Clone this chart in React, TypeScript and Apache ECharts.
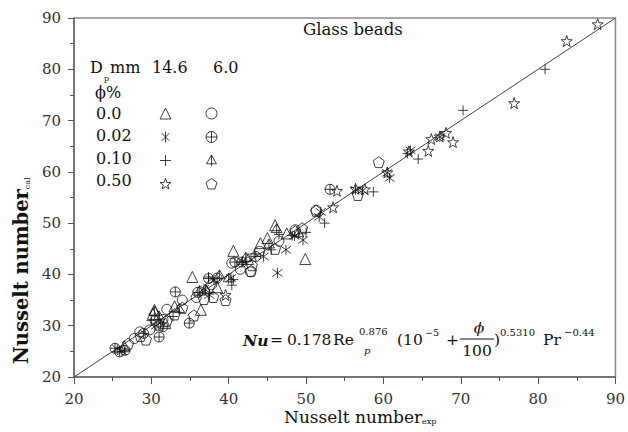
import React, { useEffect, useRef } from 'react';
import * as echarts from 'echarts';

// Nusselt number: experimental (x) vs calculated (y)
const triangle146 = [[30.4,33.1],[30.2,32.3],[35.3,39.5],[36.4,33.1],[40.6,44.6],[44.1,46.1],[45.0,47.1],[46.0,49.6],[49.9,43.0],[31.8,30.5],[38.5,37.5],[42.5,43.0],[26.5,26.0],[33.0,33.8],[47.5,48.0]];
const circle60 = [[27.8,27.5],[28.5,28.8],[29.8,29.2],[31.5,31.2],[32.0,33.2],[34.0,35.0],[35.8,35.5],[37.8,38.0],[40.4,42.2],[41.5,41.0],[42.8,40.5],[44.0,44.5],[48.6,48.7],[51.3,52.5],[46.5,46.5],[30.5,31.0]];
const asterisk146 = [[25.6,25.5],[26.2,25.0],[30.6,30.0],[36.8,37.2],[37.5,36.0],[38.1,38.9],[40.3,39.3],[41.8,42.6],[44.5,43.5],[46.3,40.3],[47.4,44.8],[49.6,46.7],[48.5,47.5],[51.9,52.2],[51.7,51.2],[56.4,56.5],[57.3,56.4],[60.5,59.8],[60.8,58.8],[63.5,64.2],[67.3,66.8]];
const oplus60 = [[25.3,25.6],[25.9,24.9],[26.6,25.2],[29.0,28.5],[31.0,27.8],[33.1,36.6],[34.9,30.5],[37.4,39.2],[38.5,39.3],[31.5,29.8],[40.8,42.4],[41.7,42.4],[53.1,56.6],[36.0,36.5],[43.5,43.5]];
const plus146 = [[30.0,31.0],[31.2,30.5],[37.4,39.5],[37.5,36.2],[40.4,37.9],[40.6,39.0],[45.5,44.8],[46.5,47.8],[48.2,47.6],[50.0,48.2],[52.4,50.0],[58.7,56.1],[63.1,63.6],[64.5,62.5],[70.3,72.0],[80.9,80.0],[32.8,31.8],[43.3,44.0]];
const triline60 = [[30.4,32.7],[31.0,31.8],[36.2,36.6],[37.0,37.0],[40.0,39.2],[42.2,43.2],[45.2,45.8],[46.2,48.8],[33.6,33.2],[38.8,39.8],[49.0,48.0]];
const star146 = [[53.5,53.1],[54.0,56.3],[56.4,56.7],[57.6,56.6],[60.5,59.9],[63.3,64.0],[65.8,64.1],[66.2,66.4],[67.3,66.9],[68.1,67.6],[69.0,65.8],[76.9,73.4],[83.7,85.5],[87.7,88.8],[39.6,36.0]];
const pentagon60 = [[27.0,26.5],[28.6,28.0],[29.3,27.3],[32.0,31.0],[33.0,32.2],[34.0,33.5],[35.5,32.0],[36.8,35.2],[38.0,35.6],[39.6,35.0],[42.9,40.7],[43.0,41.8],[46.0,45.0],[48.6,48.4],[51.3,52.4],[56.7,55.5],[59.4,61.9],[49.5,49.0],[31.0,30.2]];
const parityLine = [[20, 20], [90, 90]];

const phiLabels = ['0.0', '0.02', '0.10', '0.50'];
const diameters = ['14.6', '6.0'];

const SYM_ASTERISK = 'path://M0,-10 L0,10 M-7.07,-7.07 L7.07,7.07 M-7.07,7.07 L7.07,-7.07';
const SYM_PLUS = 'path://M-10,0 L10,0 M0,-10 L0,10';
const SYM_OPLUS = 'path://M-10,0 A10,10 0 1,0 10,0 A10,10 0 1,0 -10,0 Z M-10,0 L10,0 M0,-10 L0,10';
const SYM_TRILINE = 'path://M0,-10 L9,6 L-9,6 Z M0,-10 L0,10';
const SYM_STAR = 'path://M0,-10 L2.35,-3.24 L9.51,-3.09 L3.8,1.24 L5.88,8.09 L0,4 L-5.88,8.09 L-3.8,1.24 L-9.51,-3.09 L-2.35,-3.24 Z';
const SYM_PENT = 'path://M0,-10 L9.51,-3.09 L5.88,8.09 L-5.88,8.09 L-9.51,-3.09 Z';

const FONT = 'DejaVu Serif';
const INK = '#111';

function scatter(name: string, data: number[][], symbol: string, size: number) {
  return {
    type: 'scatter',
    name,
    data,
    symbol,
    symbolSize: size,
    itemStyle: { color: 'rgba(0,0,0,0)', borderColor: '#111', borderWidth: 1 },
    emphasis: { disabled: true },
    z: 3,
  };
}

function txt(text: string, x: number, y: number, size: number, extra: any = {}) {
  return {
    type: 'text',
    x,
    y,
    silent: true,
    style: {
      text,
      fontFamily: FONT,
      fontSize: size,
      fill: INK,
      align: 'left',
      verticalAlign: 'middle',
      ...extra,
    },
  };
}

export default function App() {
  const ref = useRef<HTMLDivElement>(null);
  useEffect(() => {
    const chart = echarts.init(ref.current!, null, { renderer: 'svg' });
    const names146 = ['14.6 / 0.0', '14.6 / 0.02', '14.6 / 0.10', '14.6 / 0.50'];
    const names60 = ['6.0 / 0.0', '6.0 / 0.02', '6.0 / 0.10', '6.0 / 0.50'];
    const rowY = [113, 135.5, 158, 180.5];
    const legendCommon = {
      orient: 'vertical',
      top: rowY[0] - 5.5,
      itemWidth: 11,
      itemHeight: 11,
      itemGap: 11.5,
      padding: 0,
      selectedMode: false,
      formatter: () => '',
      itemStyle: { borderWidth: 1, borderColor: '#111', color: 'rgba(0,0,0,0)' },
      textStyle: { fontSize: 11, lineHeight: 11 },
    };
    const option: any = {
      animation: false,
      backgroundColor: '#fff',
      grid: { left: 74, right: 8, top: 18, bottom: 55, show: true, borderColor: '#8a8a8a', borderWidth: 1.5 },
      xAxis: {
        type: 'value',
        min: 20,
        max: 90,
        interval: 10,
        axisLine: { lineStyle: { color: '#666', width: 1.5 } },
        axisTick: { length: 7, lineStyle: { color: '#555' } },
        minorTick: { show: true, splitNumber: 2, length: 4, lineStyle: { color: '#555' } },
        splitLine: { show: false },
        axisLabel: { fontFamily: FONT, fontSize: 15, color: '#333', margin: 14 },
      },
      yAxis: {
        type: 'value',
        min: 20,
        max: 90,
        interval: 10,
        axisLine: { lineStyle: { color: '#666', width: 1.5 } },
        axisTick: { length: 6, lineStyle: { color: '#555' } },
        minorTick: { show: true, splitNumber: 2, length: 4, lineStyle: { color: '#555' } },
        splitLine: { show: false },
        axisLabel: { fontFamily: FONT, fontSize: 15, color: '#333', margin: 13 },
      },
      legend: [
        { ...legendCommon, left: 159.5, data: names146 },
        { ...legendCommon, left: 205.5, data: names60 },
      ],
      series: [
        {
          type: 'line',
          name: 'parity',
          data: parityLine,
          symbol: 'none',
          silent: true,
          lineStyle: { color: '#444', width: 1 },
          z: 2,
        },
        scatter(names146[0], triangle146, 'triangle', 11),
        scatter(names146[1], asterisk146, SYM_ASTERISK, 10),
        scatter(names146[2], plus146, SYM_PLUS, 10),
        scatter(names146[3], star146, SYM_STAR, 11),
        scatter(names60[0], circle60, 'circle', 10),
        scatter(names60[1], oplus60, SYM_OPLUS, 10),
        scatter(names60[2], triline60, SYM_TRILINE, 11),
        scatter(names60[3], pentagon60, SYM_PENT, 11),
      ],
      graphic: [
        txt('Glass beads', 303, 29, 16.5),
        txt('D', 90, 67, 16),
        txt('p', 104, 78, 8),
        txt('mm', 110, 67, 16),
        txt(diameters[0], 152, 67, 16),
        txt(diameters[1], 213, 67, 16),
        txt('\u03d5%', 95, 92, 16),
        ...phiLabels.map((p, i) => txt(p, 96, rowY[i], 16)),
        // y axis title (rotated)
        {
          type: 'text',
          x: 19,
          y: 364,
          rotation: Math.PI / 2,
          silent: true,
          style: {
            text: '{m|Nusselt number}{s|cal}',
            align: 'left',
            verticalAlign: 'middle',
            rich: {
              m: { fontFamily: FONT, fontSize: 19.5, fontWeight: 'bold', fill: INK, lineHeight: 24, verticalAlign: 'bottom' },
              s: { fontFamily: FONT, fontSize: 8, fill: INK, lineHeight: 24, verticalAlign: 'bottom' },
            },
          },
        },
        // x axis title
        {
          type: 'text',
          x: 284,
          y: 415,
          silent: true,
          style: {
            text: '{m|Nusselt number}{s|exp}',
            align: 'left',
            verticalAlign: 'middle',
            rich: {
              m: { fontFamily: FONT, fontSize: 17, fill: INK, lineHeight: 20, verticalAlign: 'bottom' },
              s: { fontFamily: FONT, fontSize: 8, fill: INK, lineHeight: 20, verticalAlign: 'bottom' },
            },
          },
        },
        // correlation formula
        txt('Nu', 243, 340, 15.5, { fontStyle: 'italic', fontWeight: 'bold' }),
        txt('=', 270, 340, 15.5),
        txt('0.178', 287, 340, 15.5),
        txt('Re', 333, 340, 15.5),
        txt('0.876', 359, 331, 10),
        txt('p', 364, 350, 10, { fontStyle: 'italic' }),
        txt('(10', 397, 340, 15.5),
        txt('\u22125', 425, 332, 9.5),
        txt('+', 446, 340, 15.5),
        txt('\u03d5', 479, 328, 15.5, { align: 'center', fontStyle: 'italic' }),
        {
          type: 'line',
          silent: true,
          shape: { x1: 460, y1: 339, x2: 494, y2: 339 },
          style: { stroke: INK, lineWidth: 1 },
        },
        txt('100', 477, 351, 15.5, { align: 'center' }),
        txt(')', 494, 340, 15.5),
        txt('0.5310', 500, 332, 10),
        txt('Pr', 543, 340, 15.5),
        txt('\u22120.44', 564, 332, 10),
      ],
    };
    chart.setOption(option);
    return () => chart.dispose();
  }, []);
  return <div ref={ref} style={{ position: 'absolute', left: 0, top: 0, width: 628, height: 432 }} />;
}
